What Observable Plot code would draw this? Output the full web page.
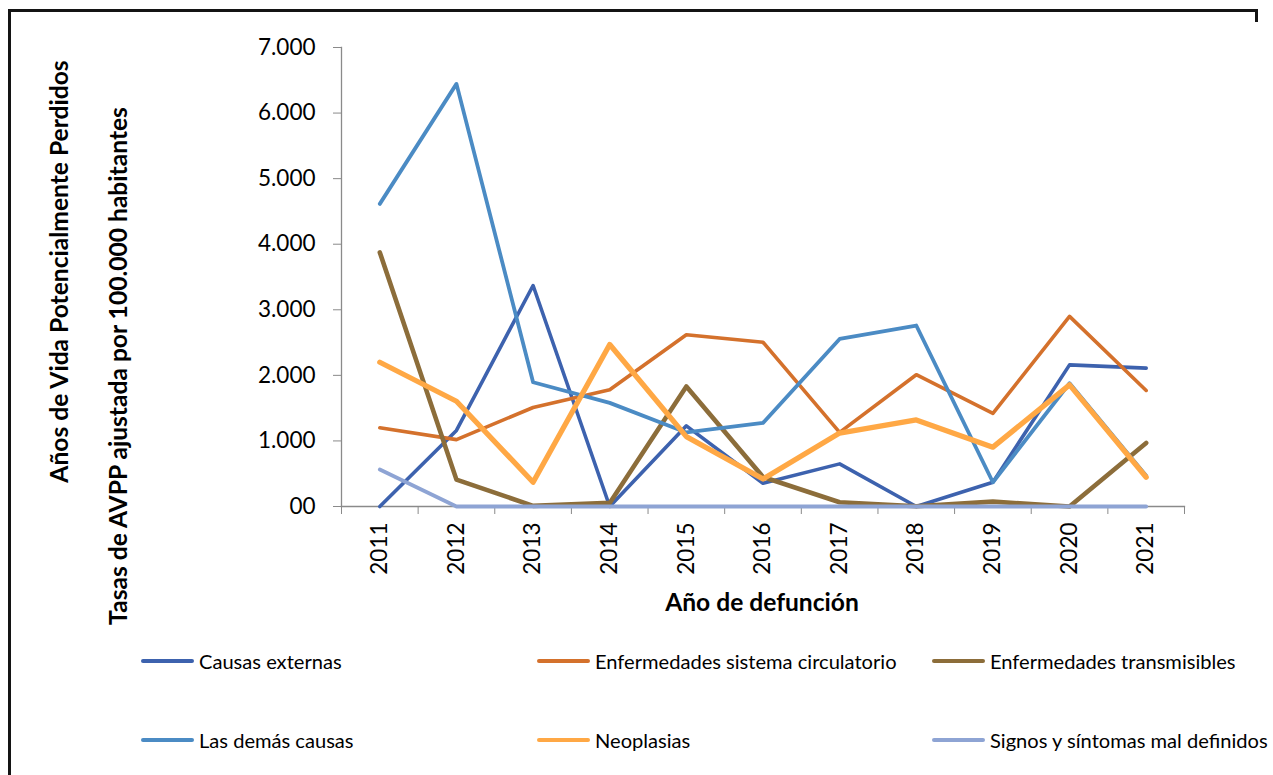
<!DOCTYPE html>
<html>
<head>
<meta charset="utf-8">
<script src="https://cdn.jsdelivr.net/npm/d3@7"></script>
<script src="https://cdn.jsdelivr.net/npm/@observablehq/plot@0.6"></script>
<style>
  body { margin: 0; background: #fff; }
  #wrap { position: relative; width: 1273px; height: 775px; overflow: hidden; font-family: Lato, sans-serif; background: #fff; }
  .bd { position: absolute; background: #141414; }
  #chart { position: absolute; left: 0; top: 0; }
  #legend { position: absolute; left: 0; top: 0; width: 1273px; height: 775px; pointer-events: none; }
  .leg { position: absolute; display: flex; align-items: center; font-size: 20.1px; color: #000; white-space: nowrap; transform: translateY(-50%); }
  .leg .sw { width: 53px; height: 4.5px; border-radius: 2.25px; margin-right: 5px; flex: none; }
</style>
</head>
<body>
<div id="wrap">
  <div id="chart"></div>
  <div id="legend"></div>
  <div class="bd" style="left:9px;top:9px;width:1249px;height:3px;"></div>
  <div class="bd" style="left:8px;top:9px;width:3px;height:766px;"></div>
  <div class="bd" style="left:1255px;top:9px;width:3px;height:13px;"></div>
</div>
<script>
// ---- Data ----
const years = [2011, 2012, 2013, 2014, 2015, 2016, 2017, 2018, 2019, 2020, 2021];
const causasExternas      = [0, 1160, 3370, 0, 1230, 355, 650, 0, 370, 2160, 2110];
const sistemaCirculatorio = [1200, 1020, 1510, 1780, 2620, 2505, 1130, 2010, 1420, 2900, 1770];
const transmisibles       = [3875, 410, 10, 55, 1830, 450, 65, 5, 75, 0, 970];
const demasCausas         = [4615, 6445, 1895, 1580, 1130, 1275, 2555, 2760, 370, 1880, 470];
const neoplasias          = [2200, 1605, 370, 2470, 1065, 420, 1120, 1320, 905, 1855, 447];
const signosSintomas      = [565, 0, 0, 0, 0, 0, 0, 0, 0, 0, 0];
const yTicks = [0, 1000, 2000, 3000, 4000, 5000, 6000, 7000];
const seriesNames = [
  "Causas externas",
  "Enfermedades sistema circulatorio",
  "Enfermedades transmisibles",
  "Las demás causas",
  "Neoplasias",
  "Signos y síntomas mal definidos"
];
const seriesValues = [causasExternas, sistemaCirculatorio, transmisibles, demasCausas, neoplasias, signosSintomas];

// ---- Styles ----
const seriesColors = ["#3D62AE", "#D4712C", "#8C6D3A", "#4B8BC4", "#FFA845", "#8EA4D4"];
const seriesWidths = [3.6, 3.6, 4.6, 3.8, 5.3, 3.8];

const rows = [];
seriesNames.forEach((name, s) => seriesValues[s].forEach((v, i) => rows.push({series: name, year: years[i], value: v})));
const bounds = years.map(y => y - 0.5).concat([years[years.length - 1] + 0.5]);

const W = 1273, H = 640;
const fmt = v => v === 0 ? "00" : d3.format(",")(v).replace(/,/g, ".");
const axisGray = "#8a8a8a";

const plot = Plot.plot({
  width: W, height: H,
  marginLeft: 341, marginRight: 89, marginTop: 47, marginBottom: H - 506,
  style: {fontFamily: "Lato, sans-serif", background: "transparent", overflow: "visible"},
  x: {type: "linear", domain: [bounds[0], bounds[bounds.length - 1]]},
  y: {domain: [0, 7000]},
  marks: [
    Plot.frame({anchor: "left", stroke: axisGray, strokeWidth: 1.3}),
    Plot.frame({anchor: "bottom", stroke: axisGray, strokeWidth: 1.3}),
    Plot.axisY({ticks: yTicks, tickSize: 8, tickPadding: 18, tickFormat: fmt, fontSize: 22.5, stroke: axisGray, fill: "#000", label: null}),
    Plot.axisX({ticks: bounds, tickSize: 8, stroke: axisGray, fill: "none", label: null}),
    Plot.axisX({ticks: years, tickSize: 0, tickPadding: 16, tickRotate: -90, tickFormat: d => String(d), fontSize: 22.5, fill: "#000", label: null}),
    ...seriesNames.map((name, s) => Plot.line(rows.filter(r => r.series === name), {
      x: "year", y: "value", stroke: seriesColors[s], strokeWidth: seriesWidths[s],
      strokeLinejoin: "round", strokeLinecap: "round"
    }))
  ]
});
document.getElementById("chart").appendChild(plot);

// Axis titles
const svg = d3.select(plot);
const titleFont = "24.6px";
svg.append("text").attr("x", 762).attr("y", 611).attr("text-anchor", "middle")
  .style("font-family", "Lato, sans-serif").style("font-weight", "bold").style("font-size", titleFont).attr("fill", "#000")
  .text("Año de defunción");
svg.append("text").attr("transform", "translate(58,271.5) rotate(-90)").attr("text-anchor", "middle").attr("dominant-baseline", "central")
  .style("font-family", "Lato, sans-serif").style("font-weight", "bold").style("font-size", titleFont).attr("fill", "#000")
  .text("Años de Vida Potencialmente Perdidos");
svg.append("text").attr("transform", "translate(117,366) rotate(-90)").attr("text-anchor", "middle").attr("dominant-baseline", "central")
  .style("font-family", "Lato, sans-serif").style("font-weight", "bold").style("font-size", titleFont).attr("fill", "#000")
  .text("Tasas de AVPP ajustada por 100.000 habitantes");

// Legend (HTML, below the chart)
const legX = [141, 537, 932];
const legY = [661, 740];
const legend = document.getElementById("legend");
seriesNames.forEach((name, i) => {
  const item = document.createElement("div");
  item.className = "leg";
  item.style.left = legX[i % 3] + "px";
  item.style.top = legY[Math.floor(i / 3)] + "px";
  const sw = document.createElement("span");
  sw.className = "sw";
  sw.style.background = seriesColors[i];
  const tx = document.createElement("span");
  tx.textContent = name;
  item.appendChild(sw); item.appendChild(tx);
  legend.appendChild(item);
});
</script>
</body>
</html>
